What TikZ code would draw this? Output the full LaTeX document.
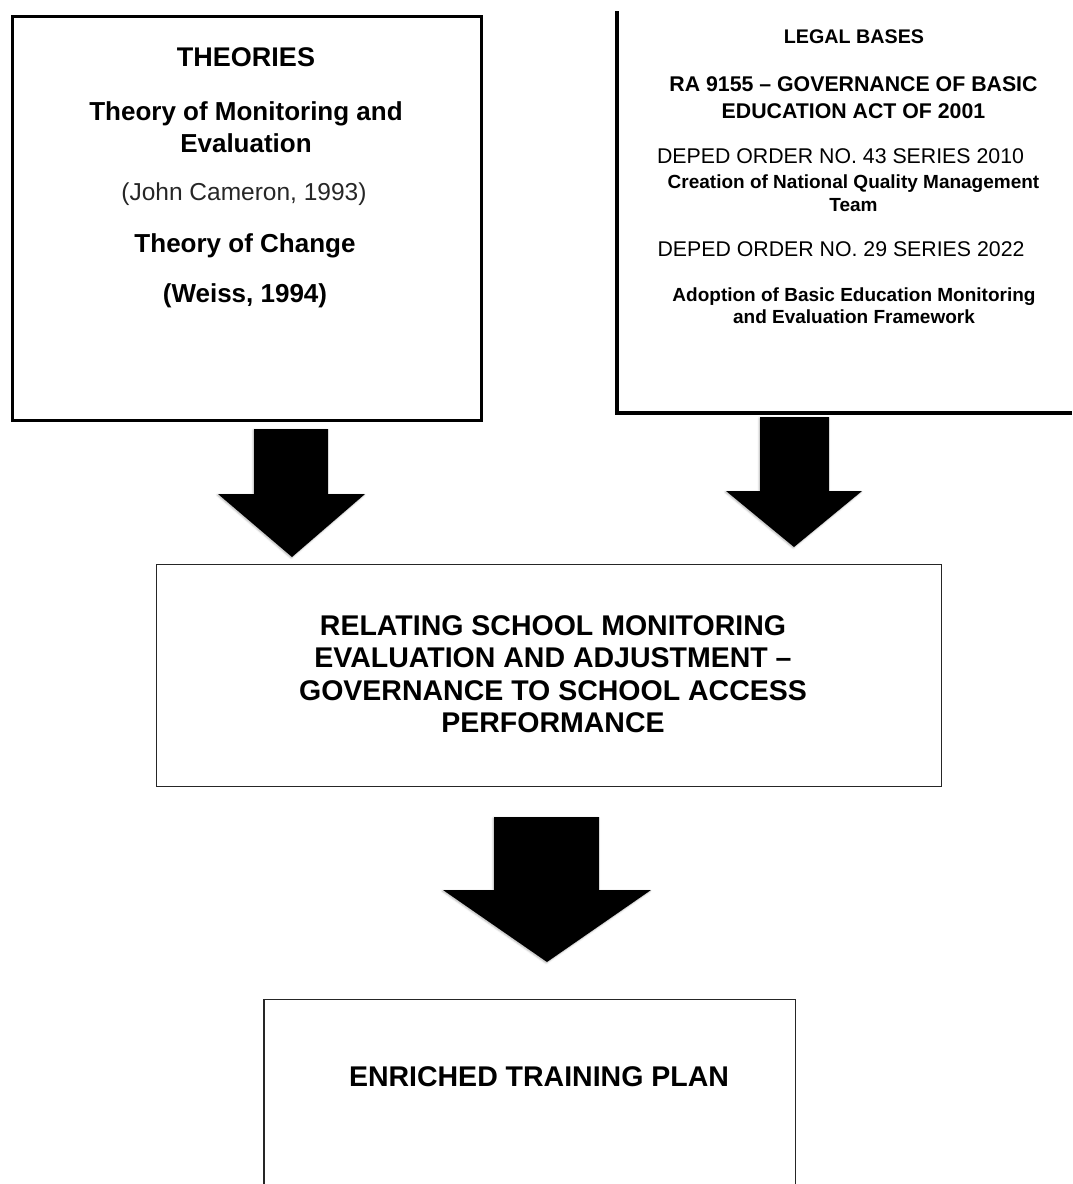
\documentclass[tikz,border=0pt]{standalone}
\usepackage{fontspec}
\setmainfont{Liberation Sans}
\usetikzlibrary{shadows.blur}

\newcommand{\fsz}[1]{\fontsize{#1}{#1}\selectfont}

\begin{document}
\begin{tikzpicture}[x=1pt,y=-1pt,
  heavybox/.style={draw=black, line width=3pt},
  lightbox/.style={draw=black!85, line width=1.4pt},
  blockarrow/.style={fill=black, draw=none,
    blur shadow={shadow xshift=-0.8pt, shadow yshift=-1pt,
                 shadow blur radius=1.8pt, shadow opacity=30}},
  txt/.style={anchor=base, inner sep=0pt, text=black},
  bt/.style={txt, font=\bfseries},
]
\useasboundingbox (0,0) rectangle (1072,1184);

% ---------- framework boxes ----------
\node[heavybox, anchor=north west, minimum width=469pt, minimum height=404pt, inner sep=0pt]
  (theories) at (10.5,14.5) {};

% legal bases panel: only its left and bottom sides fall on the page
\coordinate (lbtop) at (617,11);
\coordinate (lbcorner) at (617,413);
\coordinate (lbright) at (1072,413);
\draw[black, line width=3.5pt] (lbtop) -- (lbcorner) -- (lbright);

\node[lightbox, anchor=north west, minimum width=785pt, minimum height=222pt, inner sep=0pt]
  (relating) at (155.5,564) {};

% training plan box continues below the page edge
\coordinate (tpbl) at (264,1190);
\coordinate (tptl) at (264,999.5);
\coordinate (tptr) at (795.5,999.5);
\coordinate (tpbr) at (795.5,1190);
\draw[draw=black!85, line width=1.4pt] (tpbl) -- (tptl) -- (tptr) -- (tpbr);

% ---------- block arrows ----------
\fill[blockarrow] (254,429) -- (328,429) -- (328,494) -- (365,494) -- (292,557)
  -- (218,494) -- (254,494) -- cycle;
\fill[blockarrow] (760,417) -- (829,417) -- (829,491) -- (862,491) -- (794,547)
  -- (726,491) -- (760,491) -- cycle;
\fill[blockarrow] (494,817) -- (599,817) -- (599,890) -- (651,890) -- (547,962)
  -- (443,890) -- (494,890) -- cycle;

% ---------- theories ----------
\node[bt, font=\bfseries\fsz{27}] (th1) at (246,66) {THEORIES};
\node[bt, font=\bfseries\fsz{26}] (th2) at (246,120) {Theory of Monitoring and};
\node[bt, font=\bfseries\fsz{26}] (th3) at (246,152) {Evaluation};
\node[txt, font=\fsz{24.5}, text=black!85] (th4) at (244,200) {(John Cameron, 1993)};
\node[bt, font=\bfseries\fsz{26}] (th5) at (245,252) {Theory of Change};
\node[bt, font=\bfseries\fsz{26}] (th6) at (245,302) {(Weiss, 1994)};

% ---------- legal bases ----------
\node[bt, font=\bfseries\fsz{19.7}] (lb1) at (854,43) {LEGAL BASES};
\node[bt, font=\bfseries\fsz{21.3}] (lb2) at (853.5,91) {RA 9155 – GOVERNANCE OF BASIC};
\node[bt, font=\bfseries\fsz{21.3}] (lb3) at (853.5,118) {EDUCATION ACT OF 2001};
\node[txt, font=\fsz{21.3}] (lb4) at (840.5,163) {DEPED ORDER NO. 43 SERIES 2010};
\node[bt, font=\bfseries\fsz{19}] (lb5) at (853.5,188) {Creation of National Quality Management};
\node[bt, font=\bfseries\fsz{19}] (lb6) at (853.5,211) {Team};
\node[txt, font=\fsz{21.3}] (lb7) at (841,256) {DEPED ORDER NO. 29 SERIES 2022};
\node[bt, font=\bfseries\fsz{19}] (lb8) at (854,301) {Adoption of Basic Education Monitoring};
\node[bt, font=\bfseries\fsz{19}] (lb9) at (854,323) {and Evaluation Framework};

% ---------- central construct ----------
\node[bt, font=\bfseries\fsz{28.5}] (rl1) at (553,635) {RELATING SCHOOL MONITORING};
\node[bt, font=\bfseries\fsz{28.5}] (rl2) at (553,667.5) {EVALUATION AND ADJUSTMENT –};
\node[bt, font=\bfseries\fsz{28.5}] (rl3) at (553,700) {GOVERNANCE TO SCHOOL ACCESS};
\node[bt, font=\bfseries\fsz{28.5}] (rl4) at (553,732.5) {PERFORMANCE};

% ---------- output ----------
\node[bt, font=\bfseries\fsz{28.5}] (tp1) at (539,1086) {ENRICHED TRAINING PLAN};
\end{tikzpicture}
\end{document}
